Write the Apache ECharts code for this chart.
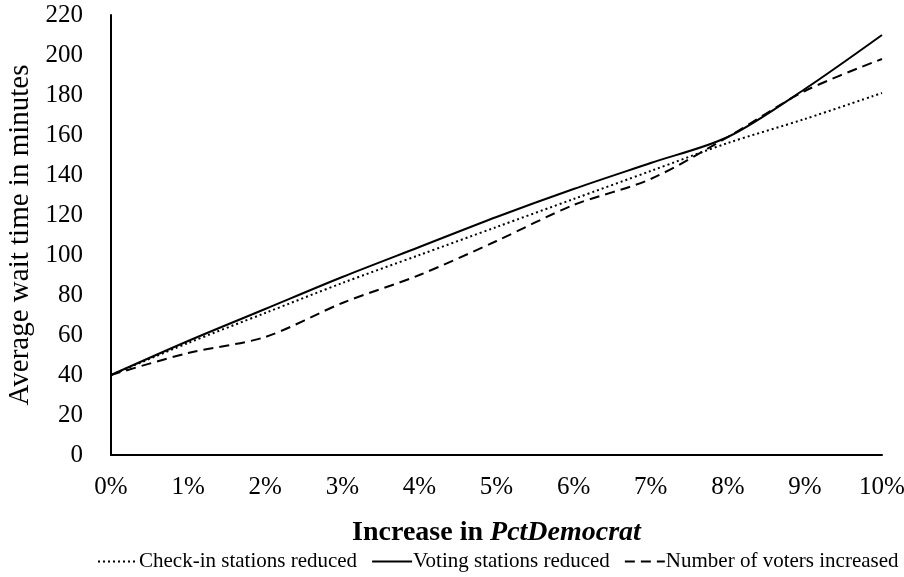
<!DOCTYPE html>
<html>
<head>
<meta charset="utf-8">
<script src="https://cdn.jsdelivr.net/npm/echarts@6/dist/echarts.min.js"></script>
<style>
html, body { margin: 0; padding: 0; background: #fff; }
#chart { width: 904px; height: 577px; }
</style>
</head>
<body>
<div id="chart"></div>
<script>
// x categories (increase in PctDemocrat)
var categories = ['0%', '1%', '2%', '3%', '4%', '5%', '6%', '7%', '8%', '9%', '10%'];
// average wait time
var checkIn = [40, 56, 71, 86, 100, 114, 128, 142, 156, 168, 181];
var voting = [40, 57, 73, 89, 104, 119, 133, 146, 159, 183, 210];
var voters = [40, 51, 59, 76, 90, 107, 125, 138, 159, 182, 198];

var font = 'Liberation Serif';
var chart = echarts.init(document.getElementById('chart'));

function line(name, data, type) {
  return {
    name: name,
    type: 'line',
    data: data,
    smooth: 0.3,
    symbol: 'none',
    lineStyle: { color: '#000', width: 2, type: type },
    itemStyle: { color: '#000' }
  };
}

chart.setOption({
  animation: false,
  textStyle: { fontFamily: font, color: '#000' },
  grid: { left: 111, right: 22, top: 15, bottom: 122, outerBoundsMode: 'none' },
  xAxis: {
    type: 'category',
    data: categories,
    boundaryGap: false,
    axisLine: { lineStyle: { color: '#000', width: 2 } },
    axisTick: { show: false },
    axisLabel: { fontFamily: font, fontSize: 25, color: '#000', margin: 20 },
    name: '{b|Increase in }{bi|PctDemocrat}',
    nameLocation: 'middle',
    nameGap: 64,
    nameTextStyle: {
      rich: {
        b: { fontFamily: font, fontSize: 28, fontWeight: 'bold', color: '#000' },
        bi: { fontFamily: font, fontSize: 28, fontWeight: 'bold', fontStyle: 'italic', color: '#000' }
      }
    }
  },
  yAxis: {
    type: 'value',
    min: 0,
    max: 220,
    interval: 20,
    axisLine: { show: true, lineStyle: { color: '#000', width: 2 } },
    axisTick: { show: false },
    splitLine: { show: false },
    axisLabel: { fontFamily: font, fontSize: 25, color: '#000', margin: 28 },
    name: 'Average wait time in minutes',
    nameLocation: 'middle',
    nameGap: 75,
    nameTextStyle: { fontFamily: font, fontSize: 29, color: '#000' }
  },
  legend: {
    bottom: 0,
    left: 92,
    itemWidth: 40,
    itemHeight: 6,
    itemGap: 14,
    itemStyle: { opacity: 0 },
    textStyle: { fontFamily: font, fontSize: 21, color: '#000', padding: [0, 0, 0, -4] },
    data: ['Check-in stations reduced', 'Voting stations reduced', 'Number of voters increased']
  },
  series: [
    line('Check-in stations reduced', checkIn, [2, 3]),
    line('Voting stations reduced', voting, 'solid'),
    line('Number of voters increased', voters, [10, 6])
  ]
});
</script>
</body>
</html>
